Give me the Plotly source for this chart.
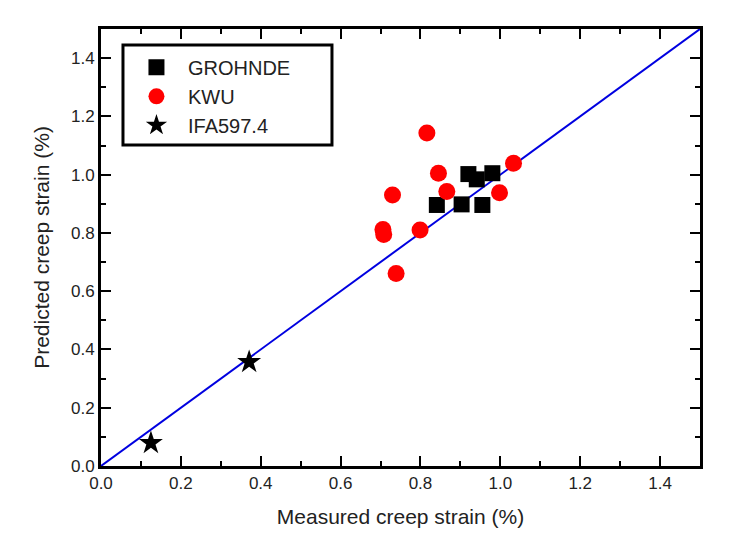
import plotly.graph_objects as go

# Data
grohnde_x = [0.920, 0.941, 0.980, 0.841, 0.903, 0.955]
grohnde_y = [1.002, 0.984, 1.005, 0.896, 0.898, 0.896]

kwu_x = [0.816, 0.730, 0.845, 0.866, 1.033, 0.998, 0.799, 0.706, 0.708, 0.739]
kwu_y = [1.143, 0.930, 1.005, 0.942, 1.039, 0.938, 0.810, 0.812, 0.795, 0.661]

ifa_x = [0.125, 0.371]
ifa_y = [0.079, 0.357]

line_x = [0.0, 1.5]
line_y = [0.0, 1.5]

x_ticks = [0.0, 0.2, 0.4, 0.6, 0.8, 1.0, 1.2, 1.4]
y_ticks = [0.0, 0.2, 0.4, 0.6, 0.8, 1.0, 1.2, 1.4]

FONT = "Liberation Sans, Arial, sans-serif"

fig = go.Figure()
fig.add_trace(go.Scatter(x=line_x, y=line_y, mode="lines",
                         line=dict(color="#0000e0", width=2), showlegend=False))
fig.add_trace(go.Scatter(x=grohnde_x, y=grohnde_y, mode="markers", name="GROHNDE",
                         marker=dict(symbol="square", size=16, color="black")))
fig.add_trace(go.Scatter(x=kwu_x, y=kwu_y, mode="markers", name="KWU",
                         marker=dict(symbol="circle", size=17, color="#ff0000")))
fig.add_trace(go.Scatter(x=ifa_x, y=ifa_y, mode="markers", name="IFA597.4",
                         marker=dict(symbol="star", size=18, color="black")))

axis_common = dict(
    range=[0, 1.5],
    ticks="inside", ticklen=10, tickwidth=2, tickcolor="black",
    showline=True, linewidth=3, linecolor="black", mirror="ticks",
    showgrid=False, zeroline=False,
    minor=dict(dtick=0.1, ticks="inside", ticklen=5, tickwidth=2, tickcolor="black"),
    tickfont=dict(family=FONT, size=17, color="#222222"),
)

fig.update_xaxes(**axis_common,
                 tickvals=x_ticks, ticktext=[f"{v:.1f}" for v in x_ticks],
                 title=dict(text="Measured creep strain (%)",
                            font=dict(family=FONT, size=21, color="#222222"), standoff=17))
fig.update_yaxes(**axis_common,
                 tickvals=y_ticks, ticktext=[f"{v:.1f}" for v in y_ticks],
                 title=dict(text="Predicted creep strain (%)",
                            font=dict(family=FONT, size=21, color="#222222"), standoff=16))

# legend frame (wider than the auto-sized legend box, as in the reference)
fig.add_shape(type="rect", xref="paper", yref="paper",
              x0=0.0367, x1=0.3856, y0=0.7346, y1=0.9634,
              fillcolor="white", line=dict(color="black", width=3), layer="above")

# page body has an 8px default margin, so margins are offset accordingly
fig.update_layout(
    width=732, height=552,
    margin=dict(l=93, r=40, t=21, b=94),
    plot_bgcolor="white", paper_bgcolor="white",
    legend=dict(x=0.040, y=0.957, xanchor="left", yanchor="top",
                bgcolor="rgba(0,0,0,0)", borderwidth=0,
                font=dict(family=FONT, size=20, color="#222222"),
                itemwidth=53, tracegroupgap=0),
)

fig.write_html("out.html")
